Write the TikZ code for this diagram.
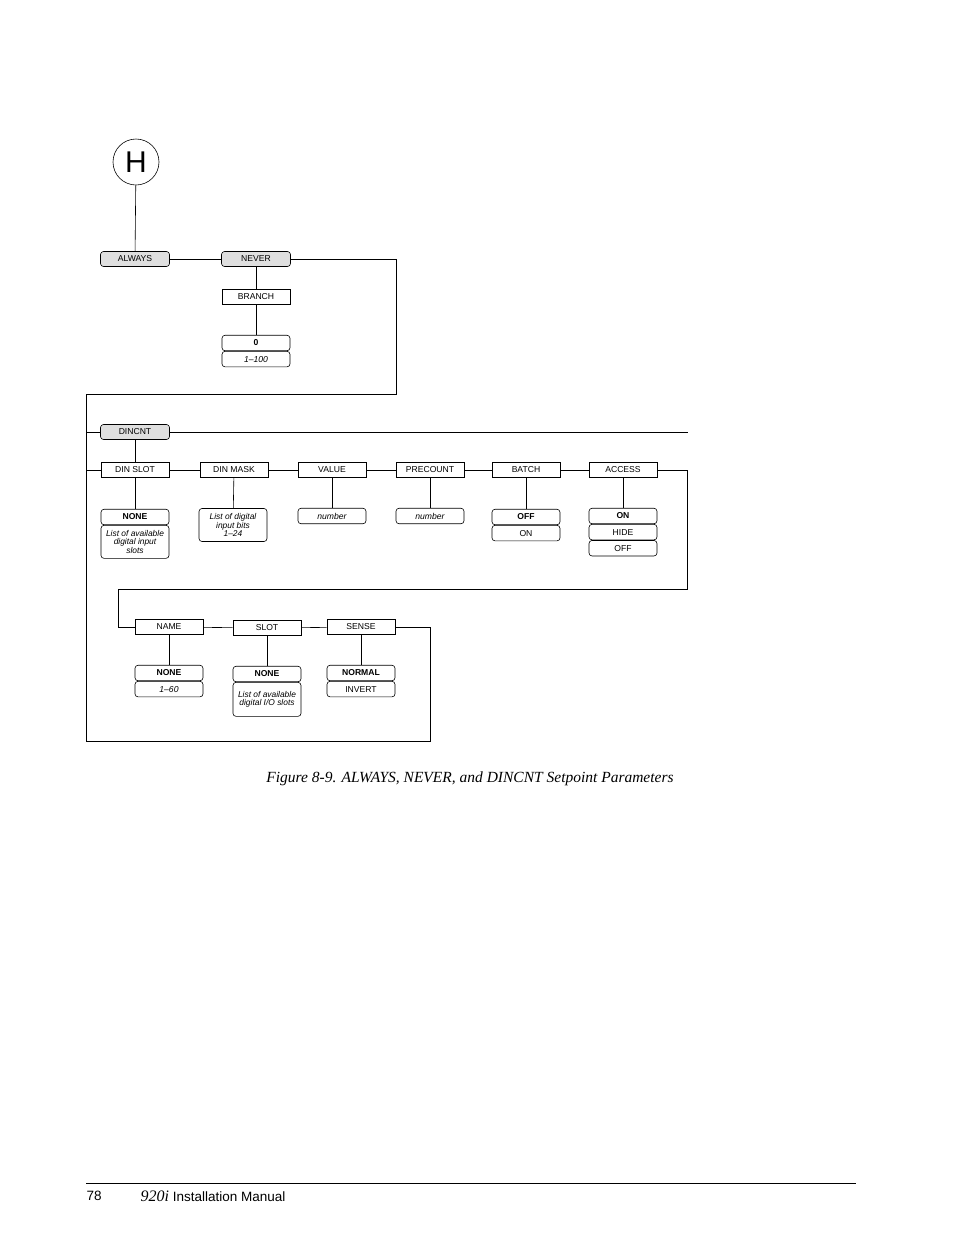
\documentclass[tikz,border=0pt]{standalone}
\usepackage{fontspec}
\setmainfont{Liberation Serif}
\setsansfont{Liberation Sans}
\begin{document}
\begin{tikzpicture}[x=1pt,y=-1pt,font=\sffamily\fontsize{8.6}{9}\selectfont,line width=0.6pt]

    \tikzstyle{menu} = [draw, rounded corners=3pt, fill=gray!25, minimum width=69pt, minimum height=15pt, inner sep=0pt]
    \tikzstyle{param} = [draw, rectangle, minimum width=68pt, minimum height=15pt, inner sep=0pt]
    \tikzstyle{val} = [draw, rounded corners=3pt, minimum width=68pt, minimum height=15.5pt, inner sep=0pt, align=center]
    \tikzstyle{tall} = [val, font=\sffamily\itshape\fontsize{8.4}{8.6}\selectfont]

    \useasboundingbox (0,0) rectangle (954,1235);

    % Top level
    \node [draw, circle, minimum size=46pt, inner sep=0pt, font=\sffamily\fontsize{30}{30}\selectfont] (h) at (136,162) {H};
    \node [menu] (always) at (135,259) {ALWAYS};
    \node [menu] (never) at (256,259) {NEVER};
    \node [param] (branch) at (256,297) {BRANCH};
    \node [val, font=\sffamily\bfseries\fontsize{8.6}{9}\selectfont] (bzero) at (256,343) {0};
    \node [val, font=\sffamily\itshape\fontsize{8.6}{9}\selectfont, anchor=north] (brange) at (bzero.south) {1--100};
    \node [menu] (dincnt) at (135,432) {DINCNT};

    % DINCNT parameters
    \node [param] (dinslot) at (135,470) {DIN SLOT};
    \node [param] (dinmask) at (234,470) {DIN MASK};
    \node [param] (value) at (332,470) {VALUE};
    \node [param] (precount) at (430,470) {PRECOUNT};
    \node [param] (batch) at (526,470) {BATCH};
    \node [param] (access) at (623,470) {ACCESS};
    \node [param] (name) at (169,627) {NAME};
    \node [param] (slot) at (267,628) {SLOT};
    \node [param] (sense) at (361,627) {SENSE};

    % Values
    \node [val, font=\sffamily\bfseries\fontsize{8.6}{9}\selectfont] (slotnone) at (135,517) {NONE};
    \node [tall, anchor=north, minimum height=33pt] (slotlist) at (slotnone.south) {List of available\\digital input\\slots};
    \node [tall, minimum height=33pt] (masklist) at (233,525) {List of digital\\input bits\\1--24};
    \node [val, font=\sffamily\itshape\fontsize{8.6}{9}\selectfont] (valnum) at (332,516) {number};
    \node [val, font=\sffamily\itshape\fontsize{8.6}{9}\selectfont] (prenum) at (430,516) {number};
    \node [val, font=\sffamily\bfseries\fontsize{8.6}{9}\selectfont] (boff) at (526,517) {OFF};
    \node [val, anchor=north] (bon) at (boff.south) {ON};
    \node [val, font=\sffamily\bfseries\fontsize{8.6}{9}\selectfont] (aon) at (623,516) {ON};
    \node [val, anchor=north] (ahide) at (aon.south) {HIDE};
    \node [val, anchor=north] (aoff) at (ahide.south) {OFF};
    \node [val, font=\sffamily\bfseries\fontsize{8.6}{9}\selectfont] (namenone) at (169,673) {NONE};
    \node [val, font=\sffamily\itshape\fontsize{8.6}{9}\selectfont, anchor=north] (namerange) at (namenone.south) {1--60};
    \node [val, font=\sffamily\bfseries\fontsize{8.6}{9}\selectfont] (ionone) at (267,674) {NONE};
    \node [tall, anchor=north, minimum height=34pt] (iolist) at (ionone.south) {List of available\\digital I/O slots};
    \node [val, font=\sffamily\bfseries\fontsize{8.6}{9}\selectfont] (normal) at (361,673) {NORMAL};
    \node [val, anchor=north] (invert) at (normal.south) {INVERT};

    % Connect the menus
    \draw (h) -- (always);
    \draw (always) -- (never);
    \draw (never) -- (branch);
    \draw (branch) -- (bzero);
    \draw (never.east) -| (396,394) -| (86,741) -| (430,627) -- (sense.east);
    \draw (86,432) -- (dincnt.west);
    \draw (dincnt.east) -- (688,432);
    \draw (dincnt) -- (dinslot);
    \draw (86,470) -- (dinslot.west);
    \draw (dinslot) -- (dinmask) -- (value) -- (precount) -- (batch) -- (access);
    \draw (access.east) -| (687,589) -| (118,627) -- (name.west);
    \draw (name) -- (slot) -- (sense);

    % Connect the values
    \draw (dinslot) -- (slotnone);
    \draw (dinmask) -- (masklist);
    \draw (value) -- (valnum);
    \draw (precount) -- (prenum);
    \draw (batch) -- (boff);
    \draw (access) -- (aon);
    \draw (name) -- (namenone);
    \draw (slot) -- (ionone);
    \draw (sense) -- (normal);

    % Caption and footer
    \node [font=\rmfamily\itshape\fontsize{15.5}{17}\selectfont] (caption) at (470,779) {Figure 8-9. ALWAYS, NEVER, and DINCNT Setpoint Parameters};
    \draw [line width=0.5pt] (86,1183) -- (856,1183);
    \node [anchor=west, font=\sffamily\fontsize{13.5}{15}\selectfont] (page) at (83,1196) {78};
    \node [anchor=west, font=\sffamily\fontsize{13.5}{15}\selectfont] (manual) at (137,1196) {{\rmfamily\itshape\fontsize{16}{16}\selectfont 920i} Installation Manual};

\end{tikzpicture}
\end{document}
